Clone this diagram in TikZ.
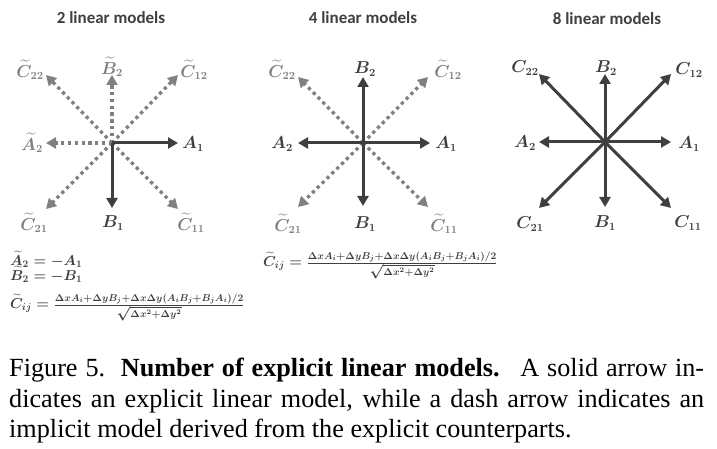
\documentclass[tikz,border=0pt]{standalone}
\usepackage[no-math]{fontspec}
\usepackage{amsmath,bm}
\setmainfont{Liberation Serif}
\newfontfamily\titlefont{Carlito}
\usetikzlibrary{arrows.meta}
\DeclareMathSizes{16}{16}{11.2}{8}
\DeclareMathSizes{14.5}{14.5}{10.3}{7.5}
\definecolor{dk}{HTML}{3F3F3F}
\definecolor{gr}{HTML}{808080}
\begin{document}
\begin{tikzpicture}[x=1pt,y=-1pt,
  solidarr/.style={draw=dk, line width=3pt, -{Triangle[length=10pt,width=11pt]}},
  dotarr/.style={draw=gr, line width=3.3pt, dash pattern=on 3.3pt off 3.5pt, -{Triangle[length=10pt,width=11pt]}},
  lbl/.style={inner sep=0, font=\fontsize{16}{16}\selectfont\boldmath, text=dk},
  glbl/.style={lbl, text=gr},
  ttl/.style={inner sep=0, font=\titlefont\bfseries\fontsize{17}{17}\selectfont, text=dk},
  eqn/.style={inner sep=0, anchor=base west, font=\fontsize{14.5}{14.5}\selectfont\boldmath, text=dk},
  capline/.style={inner sep=0, anchor=base west, font=\fontsize{26.2}{30}\selectfont}]
\useasboundingbox (0,0) rectangle (717,449);

% titles
\node[ttl] (t1) at (111,18) {2 linear models};
\node[ttl] (t2) at (363,18) {4 linear models};
\node[ttl] (t3) at (607,19) {8 linear models};

% ---------- panel 1 ----------
\begin{scope}[shift={(112,143)}]
  \coordinate (p1o) at (0,0);
  \coordinate (p1a1) at (66,0);
  \coordinate (p1a2) at (-66,0);
  \coordinate (p1b1) at (0,65);
  \coordinate (p1b2) at (0,-68);
  \coordinate (p1c11) at (66,66);
  \coordinate (p1c12) at (66,-68);
  \coordinate (p1c21) at (-66,66);
  \coordinate (p1c22) at (-66,-68);
  \draw[dotarr] (p1o) -- (p1a2);
  \draw[dotarr] (p1o) -- (p1b2);
  \draw[dotarr] (p1o) -- (p1c11);
  \draw[dotarr] (p1o) -- (p1c12);
  \draw[dotarr] (p1o) -- (p1c21);
  \draw[dotarr] (p1o) -- (p1c22);
  \draw[solidarr] (p1o) -- (p1a1);
  \draw[solidarr] (p1o) -- (p1b1);
  \node[lbl]  (p1A1)  at (81,1)   {$A_1$};
  \node[glbl] (p1A2)  at (-80,0)  {$\widetilde{A}_2$};
  \node[lbl]  (p1B1)  at (1,80)   {$B_1$};
  \node[glbl] (p1B2)  at (0,-76)  {$\widetilde{B}_2$};
  \node[glbl] (p1C11) at (79,80)  {$\widetilde{C}_{11}$};
  \node[glbl] (p1C12) at (82,-73) {$\widetilde{C}_{12}$};
  \node[glbl] (p1C21) at (-78,80) {$\widetilde{C}_{21}$};
  \node[glbl] (p1C22) at (-82,-73){$\widetilde{C}_{22}$};
\end{scope}

% ---------- panel 2 ----------
\begin{scope}[shift={(363,143)}]
  \coordinate (p2o) at (0,0);
  \coordinate (p2a1) at (67,0);
  \coordinate (p2a2) at (-65,0);
  \coordinate (p2b1) at (0,63);
  \coordinate (p2b2) at (0,-66);
  \coordinate (p2c11) at (65,64);
  \coordinate (p2c12) at (65,-66);
  \coordinate (p2c21) at (-65,64);
  \coordinate (p2c22) at (-65,-66);
  \draw[dotarr] (p2o) -- (p2c11);
  \draw[dotarr] (p2o) -- (p2c12);
  \draw[dotarr] (p2o) -- (p2c21);
  \draw[dotarr] (p2o) -- (p2c22);
  \draw[solidarr] (p2o) -- (p2a1);
  \draw[solidarr] (p2o) -- (p2a2);
  \draw[solidarr] (p2o) -- (p2b1);
  \draw[solidarr] (p2o) -- (p2b2);
  \node[lbl]  (p2A1)  at (83,1)   {$A_1$};
  \node[lbl]  (p2A2)  at (-81,1)  {$A_2$};
  \node[lbl]  (p2B1)  at (2,81)   {$B_1$};
  \node[lbl]  (p2B2)  at (2,-74)  {$B_2$};
  \node[glbl] (p2C11) at (81,81)  {$\widetilde{C}_{11}$};
  \node[glbl] (p2C12) at (85,-73) {$\widetilde{C}_{12}$};
  \node[glbl] (p2C21) at (-75,81) {$\widetilde{C}_{21}$};
  \node[glbl] (p2C22) at (-81,-73){$\widetilde{C}_{22}$};
\end{scope}

% ---------- panel 3 ----------
\begin{scope}[shift={(605,142)}]
  \coordinate (p3o) at (0,0);
  \coordinate (p3a1) at (66,0);
  \coordinate (p3a2) at (-66,0);
  \coordinate (p3b1) at (0,65);
  \coordinate (p3b2) at (0,-68);
  \coordinate (p3c11) at (66,66);
  \coordinate (p3c12) at (66,-68);
  \coordinate (p3c21) at (-66,66);
  \coordinate (p3c22) at (-66,-68);
  \foreach \t in {a1,a2,b1,b2,c11,c12,c21,c22}
    \draw[solidarr] (p3o) -- (p3\t);
  \node[lbl] (p3A1)  at (84,2)    {$A_1$};
  \node[lbl] (p3A2)  at (-80,1)   {$A_2$};
  \node[lbl] (p3B1)  at (0,81)    {$B_1$};
  \node[lbl] (p3B2)  at (1,-74)   {$B_2$};
  \node[lbl] (p3C11) at (83,81)   {$C_{11}$};
  \node[lbl] (p3C12) at (84,-72)  {$C_{12}$};
  \node[lbl] (p3C21) at (-75,82)  {$C_{21}$};
  \node[lbl] (p3C22) at (-80,-74) {$C_{22}$};
\end{scope}

% formulas
\node[eqn] (e1) at (10,265) {$\widetilde{A}_2=-A_1$};
\node[eqn] (e2) at (10,280) {$\widetilde{B}_2=-B_1$};
\node[eqn] (e3) at (10,308.5) {$\widetilde{C}_{ij}=\frac{\Delta xA_i+\Delta yB_j+\Delta x\Delta y(A_iB_j+B_jA_i)/2}{\sqrt{\Delta x^2+\Delta y^2}}$};
\node[eqn] (e4) at (263,266.5) {$\widetilde{C}_{ij}=\frac{\Delta xA_i+\Delta yB_j+\Delta x\Delta y(A_iB_j+B_jA_i)/2}{\sqrt{\Delta x^2+\Delta y^2}}$};

% caption
\node[capline] (cap1) at (9,376) {\makebox[695pt][s]{Figure 5.\hspace{0.6em}\textbf{Number of explicit linear models.}\hspace{0.3em} A solid arrow in-}};
\node[capline] (cap2) at (9,407) {\makebox[695pt][s]{dicates an explicit linear model, while a dash arrow indicates an}};
\node[capline] (cap3) at (9,437) {implicit model derived from the explicit counterparts.};
\end{tikzpicture}
\end{document}
